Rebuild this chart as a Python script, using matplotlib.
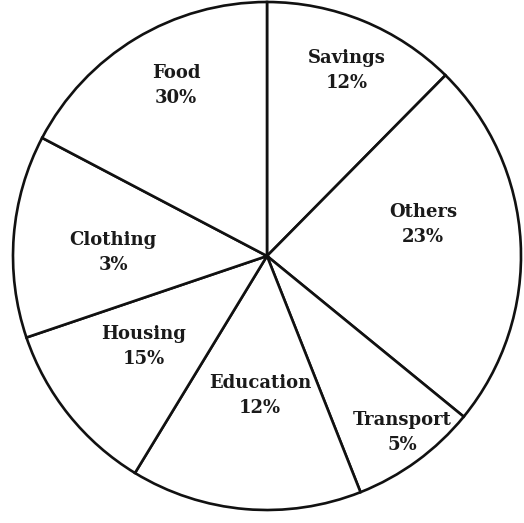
import matplotlib
matplotlib.use("Agg")
import matplotlib.pyplot as plt

# Shares as printed on the chart, clockwise from the top
categories = ["Savings", "Others", "Transport", "Education", "Housing", "Clothing", "Food"]
percent_labels = [12, 23, 5, 12, 15, 3, 30]
# Wedge sizes as actually drawn in the picture (% of the circle, estimated)
drawn_share = [12.4, 23.5, 8.1, 14.7, 11.1, 12.9, 17.3]

# label centres in pixel coords (x from left, y of the name line from top)
label_pos = {
    "Savings": (347, 58),
    "Others": (423, 212),
    "Transport": (402, 420),
    "Education": (260, 383),
    "Housing": (144, 334),
    "Clothing": (113, 240),
    "Food": (176, 73),
}

W, H = 524, 523
fig = plt.figure(figsize=(W / 100, H / 100), dpi=100)
ax = fig.add_axes([0, 0, 1, 1])

ax.pie(drawn_share, startangle=90, counterclock=False,
       center=(267, H - 256), radius=254, frame=True,
       colors=["white"] * len(drawn_share),
       wedgeprops=dict(edgecolor="#111111", linewidth=1.9))
ax.set_xlim(0, W)
ax.set_ylim(0, H)
ax.set_aspect("equal")
ax.axis("off")

font = dict(family="DejaVu Serif", fontweight="bold", fontsize=13, color="#1a1a1a")
for name, pct in zip(categories, percent_labels):
    x, y = label_pos[name]
    ax.text(x, H - y, name, ha="center", va="center", **font)
    ax.text(x, H - y - 25, f"{pct}%", ha="center", va="center", **font)

fig.savefig("out.png", dpi=100, facecolor="white")
